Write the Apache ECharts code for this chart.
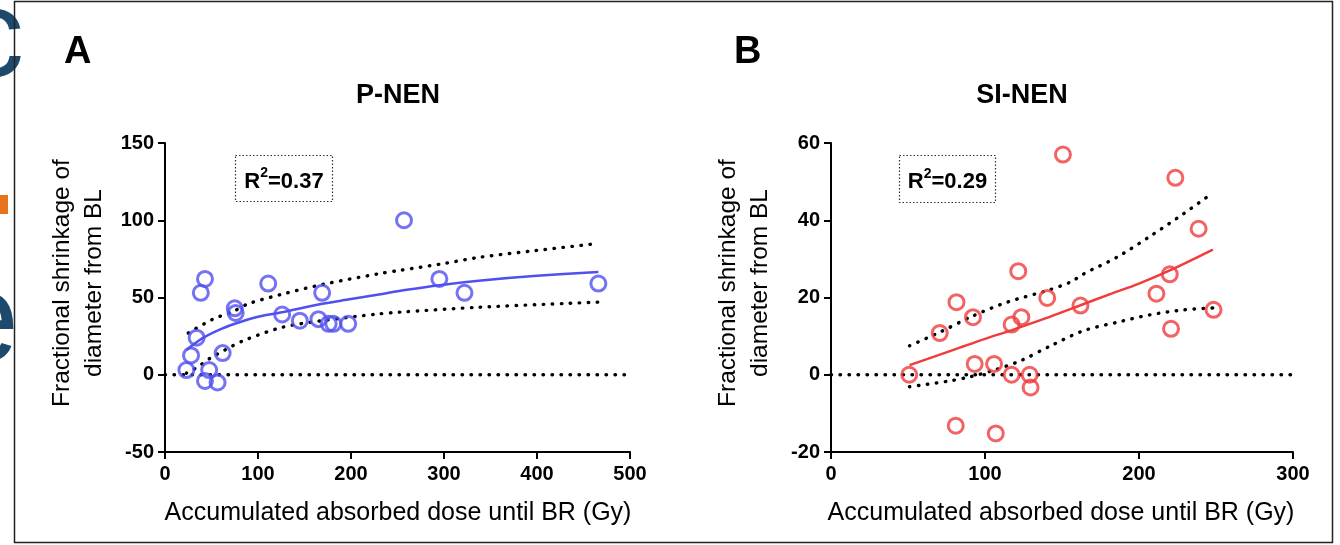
<!DOCTYPE html>
<html>
<head>
<meta charset="utf-8">
<script src="https://cdn.jsdelivr.net/npm/echarts@6/dist/echarts.min.js"></script>
<style>
html,body{margin:0;padding:0;background:#fff;}
#chart{width:1340px;height:545px;}
</style>
</head>
<body>
<div id="chart"></div>
<script>
// ---------- Panel A: P-NEN ----------
const pnenDose   = [23, 28, 34, 38.5, 43, 43, 47.5, 56.5, 62, 75, 76, 111, 126, 145, 165, 169, 176, 181, 197, 257, 295, 322, 466];
const pnenShrink = [3, 12.5, 24, 53, 62, -4, 3, -5, 14, 43, 40, 59, 39, 35, 36, 53, 33, 33, 33, 100, 62, 53, 59];
const pnenFitDose = [23, 40, 60, 80, 100, 126, 165, 200, 230, 260, 295, 340, 400, 466];
const pnenFit     = [16, 23.5, 29.5, 34, 37.5, 40.5, 45.5, 49, 52, 55, 58, 61, 64, 66.5];
const pnenUpperDose = [25, 50, 75, 90, 125, 169, 230, 252, 300, 338, 400, 466];
const pnenUpper     = [27, 35.5, 41.5, 46, 52, 58.4, 65.4, 67.5, 72, 76, 80.5, 85];
const pnenLowerDose = [23, 35, 48, 64.5, 84, 126, 169, 230, 252, 338, 466];
const pnenLower     = [1, 5, 10.5, 16, 22, 30.7, 35, 39.4, 40.5, 43.7, 47];
const pnenZeroDose  = [0, 500];
const pnenZero      = [0, 0];
const pnenXTicks = {min: 0, max: 500, interval: 100};
const pnenYTicks = {min: -50, max: 150, interval: 50};
const pnenR2 = '0.37';

// ---------- Panel B: SI-NEN ----------
const sinenDose   = [50.8, 70.6, 81.5, 81, 92.2, 93.3, 105.9, 107, 117.3, 117.3, 121.6, 123.6, 129, 129.6, 140.4, 150.6, 162, 211.3, 220, 220.8, 223.6, 238.7, 248.4];
const sinenShrink = [0, 10.8, 18.8, -13.2, 14.9, 2.8, 2.8, -15.2, 13, 0, 26.8, 14.9, 0, -3.3, 19.9, 57, 17.9, 21, 26, 11.9, 51, 37.8, 16.8];
const sinenFitDose = [51, 80, 100, 117, 142, 162, 180, 200, 220, 248];
const sinenFit     = [2.5, 6.5, 9.3, 11.5, 15, 18, 20.7, 23.6, 27, 32.4];
const sinenUpperDose = [51, 70.6, 92, 114.5, 140.4, 155.5, 164, 186, 207, 229, 248];
const sinenUpper     = [7.5, 11, 15.2, 18.8, 21.8, 24, 26.1, 30.5, 35.8, 41.7, 47.1];
const sinenLowerDose = [51, 75.6, 90.7, 105.8, 123, 142.6, 164, 186, 207, 229, 248];
const sinenLower     = [-3.1, -1.7, -0.5, 1.2, 3.6, 7.5, 11.4, 13.6, 15.5, 16.8, 17.3];
const sinenZeroDose  = [0, 300];
const sinenZero      = [0, 0];
const sinenXTicks = {min: 0, max: 300, interval: 100};
const sinenYTicks = {min: -20, max: 60, interval: 20};
const sinenR2 = '0.29';

const xTitle = 'Accumulated absorbed dose until BR (Gy)';
const yTitle = 'Fractional shrinkage of\ndiameter from BL';

// ---------- build ----------
const FONT = 'Liberation Sans, Arial, sans-serif';
const zip = (xs, ys) => xs.map((x, i) => [x, ys[i]]);

function xAxis(gi, t) {
  return {
    type: 'value', gridIndex: gi, min: t.min, max: t.max, interval: t.interval,
    axisLine: {show: true, onZero: false, lineStyle: {color: '#000', width: 2}},
    axisTick: {show: true, length: 7, lineStyle: {color: '#000', width: 2}},
    axisLabel: {color: '#000', fontFamily: FONT, fontWeight: 'bold', fontSize: 20, margin: 12},
    splitLine: {show: false}
  };
}
function yAxis(gi, t) {
  return {
    type: 'value', gridIndex: gi, min: t.min, max: t.max, interval: t.interval,
    axisLine: {show: true, onZero: false, lineStyle: {color: '#000', width: 2}},
    axisTick: {show: true, length: 7, lineStyle: {color: '#000', width: 2}},
    axisLabel: {color: '#000', fontFamily: FONT, fontWeight: 'bold', fontSize: 20, margin: 11},
    splitLine: {show: false}
  };
}
const dotted = {color: '#000', width: 3.4, type: [0.5, 8.5], cap: 'round'};
function lineSeries(gi, xs, ys, style, smooth) {
  return {
    type: 'line', xAxisIndex: gi, yAxisIndex: gi, data: zip(xs, ys),
    symbol: 'none', smooth: smooth ? 0.3 : false, lineStyle: style, z: 2
  };
}
function scatter(gi, xs, ys, color) {
  return {
    type: 'scatter', xAxisIndex: gi, yAxisIndex: gi, data: zip(xs, ys),
    symbol: 'circle', symbolSize: 15, z: 3,
    itemStyle: {color: 'rgba(255,255,255,0)', borderColor: color, borderWidth: 3}
  };
}

const BLUE = '#5050f0';
const RED = '#f03c3c';
const DARK = '#1d4a6c';

function r2Box(x, y, w, h, val) {
  return {
    type: 'group', left: x, top: y,
    children: [
      {type: 'rect', shape: {x: 0, y: 0, width: w, height: h},
       style: {fill: 'none', stroke: '#333', lineWidth: 1.2, lineDash: [1.5, 2]}},
      {type: 'text', x: w / 2, y: h / 2 + 1,
       style: {text: '{r|R}{s|2}{r|=' + val + '}', align: 'center', verticalAlign: 'middle',
         rich: {
           r: {fontFamily: FONT, fontWeight: 'bold', fontSize: 22, fill: '#000', lineHeight: 26, verticalAlign: 'bottom'},
           s: {fontFamily: FONT, fontWeight: 'bold', fontSize: 14, fill: '#000', lineHeight: 26, verticalAlign: 'top'}
         }}}
    ]
  };
}

const option = {
  backgroundColor: '#fff',
  animation: false,
  grid: [
    {left: 165, top: 143, width: 465, height: 309},
    {left: 831, top: 143, width: 462, height: 309}
  ],
  xAxis: [xAxis(0, pnenXTicks), xAxis(1, sinenXTicks)],
  yAxis: [yAxis(0, pnenYTicks), yAxis(1, sinenYTicks)],
  series: [
    lineSeries(0, pnenZeroDose, pnenZero, dotted, false),
    lineSeries(0, pnenUpperDose, pnenUpper, dotted, true),
    lineSeries(0, pnenLowerDose, pnenLower, dotted, true),
    lineSeries(0, pnenFitDose, pnenFit, {color: BLUE, width: 2.5}, true),
    scatter(0, pnenDose, pnenShrink, BLUE),
    lineSeries(1, sinenZeroDose, sinenZero, dotted, false),
    lineSeries(1, sinenUpperDose, sinenUpper, dotted, true),
    lineSeries(1, sinenLowerDose, sinenLower, dotted, true),
    lineSeries(1, sinenFitDose, sinenFit, {color: RED, width: 2.5}, true),
    scatter(1, sinenDose, sinenShrink, RED)
  ],
  graphic: [
    // background slide fragments at far left
    {type: 'text', x: 24, y: 104, z: 0, style: {text: 'c', fontFamily: FONT, fontSize: 125, fill: DARK, align: 'right', verticalAlign: 'bottom'}},
    {type: 'text', x: 19, y: 390, z: 0, style: {text: 'e', fontFamily: FONT, fontSize: 128, fill: DARK, align: 'right', verticalAlign: 'bottom'}},
    {type: 'rect', z: 0, shape: {x: 0, y: 195, width: 8, height: 19}, style: {fill: '#e8731c'}},
    // frame
    {type: 'rect', z: 1, shape: {x: 14.5, y: 1.5, width: 1318, height: 541}, style: {fill: 'none', stroke: '#222', lineWidth: 1.5}},
    // panel letters & titles
    {type: 'text', x: 64, y: 34, style: {text: 'A', fontFamily: FONT, fontWeight: 'bold', fontSize: 38, fill: '#000'}},
    {type: 'text', x: 734, y: 34, style: {text: 'B', fontFamily: FONT, fontWeight: 'bold', fontSize: 38, fill: '#000'}},
    {type: 'text', x: 398, y: 96, style: {text: 'P-NEN', fontFamily: FONT, fontWeight: 'bold', fontSize: 27, fill: '#000', align: 'center', verticalAlign: 'middle'}},
    {type: 'text', x: 1022, y: 96, style: {text: 'SI-NEN', fontFamily: FONT, fontWeight: 'bold', fontSize: 27, fill: '#000', align: 'center', verticalAlign: 'middle'}},
    // axis titles
    {type: 'text', x: 398, y: 513, style: {text: xTitle, fontFamily: FONT, fontSize: 25, fill: '#000', align: 'center', verticalAlign: 'middle'}},
    {type: 'text', x: 1061, y: 513, style: {text: xTitle, fontFamily: FONT, fontSize: 25, fill: '#000', align: 'center', verticalAlign: 'middle'}},
    {type: 'text', x: 78, y: 283, rotation: Math.PI / 2, style: {text: yTitle, fontFamily: FONT, fontSize: 24.5, lineHeight: 32, fill: '#000', align: 'center', verticalAlign: 'middle'}},
    {type: 'text', x: 744, y: 283, rotation: Math.PI / 2, style: {text: yTitle, fontFamily: FONT, fontSize: 24.5, lineHeight: 32, fill: '#000', align: 'center', verticalAlign: 'middle'}},
    // R² boxes
    r2Box(233, 153, 97, 46, pnenR2),
    r2Box(897, 153, 96, 47, sinenR2)
  ]
};

const chart = echarts.init(document.getElementById('chart'), null, {renderer: 'canvas'});
chart.setOption(option);
</script>
</body>
</html>
